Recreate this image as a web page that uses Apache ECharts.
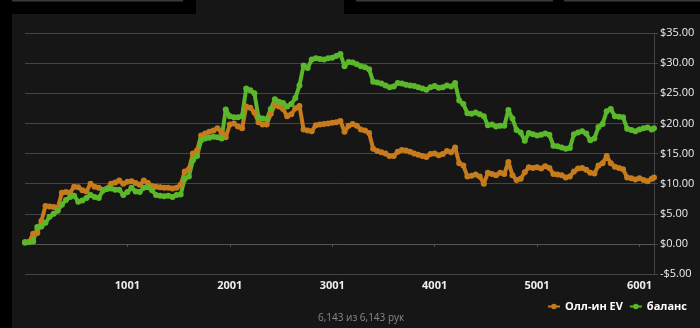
<!DOCTYPE html>
<html><head><meta charset="utf-8">
<script src="https://cdn.jsdelivr.net/npm/echarts@6/dist/echarts.min.js"></script>
<style>html,body{margin:0;padding:0;background:#000;}#c{width:700px;height:328px;}</style>
</head><body><div id="c"></div>
<script>
const seriesNames = ['Олл-ин EV', 'баланс'];
const xTickLabels = [1001, 2001, 3001, 4001, 5001, 6001];
const yMin = -5, yMax = 35, yStep = 5;
const footerText = '6,143 из 6,143 рук';

const hands = [1,41,81,121,161,201,241,281,321,361,401,441,481,521,561,601,641,681,721,761,
801,841,881,921,961,1001,1041,1081,1121,1161,1201,1241,1281,1321,1361,1401,1441,1481,1521,1561,
1601,1641,1681,1721,1761,1801,1841,1881,1921,1961,2001,2041,2081,2121,2161,2201,2241,2281,2321,2361,
2401,2441,2481,2521,2561,2601,2641,2681,2721,2761,2801,2841,2881,2921,2961,3001,3041,3081,3121,3161,
3201,3241,3281,3321,3361,3401,3441,3481,3521,3561,3601,3641,3681,3721,3761,3801,3841,3881,3921,3961,
4001,4041,4081,4121,4161,4201,4241,4281,4321,4361,4401,4441,4481,4521,4561,4601,4641,4681,4721,4761,
4801,4841,4881,4921,4961,5001,5041,5081,5121,5161,5201,5241,5281,5321,5361,5401,5441,5481,5521,5561,
5601,5641,5681,5721,5761,5801,5841,5881,5921,5961,6001,6041,6081,6121,6143];

const allinEV = [0.3,0.3,1.7,1.8,3.8,6.3,6.2,6.1,6.0,8.5,8.6,8.5,9.5,9.4,8.9,8.7,10.0,9.5,9.3,9.0,
9.2,10.0,10.2,10.5,10.0,10.3,10.4,10.1,9.8,10.5,10.1,9.6,9.5,9.4,9.3,9.3,9.2,9.3,9.8,12.0,
12.4,15.0,15.5,18.0,18.3,18.6,18.8,19.2,18.5,17.7,19.8,20.0,19.5,19.2,22.8,22.6,21.8,20.2,19.8,19.8,
21.6,23.0,22.8,22.4,21.2,21.5,22.5,22.9,19.0,18.8,18.7,19.7,19.8,19.9,20.0,20.1,20.2,20.4,18.6,19.6,
19.9,19.6,19.0,18.8,18.4,15.8,15.4,15.2,15.0,14.6,14.6,15.3,15.6,15.5,15.3,15.0,14.8,14.6,14.4,14.9,
15.0,14.7,14.9,15.4,15.2,16.0,13.4,13.0,11.2,11.3,11.5,11.2,10.0,11.8,11.6,11.4,11.8,11.6,13.6,11.4,
10.6,10.8,11.9,12.7,12.6,12.7,12.5,12.9,12.6,11.6,11.5,11.4,11.0,11.2,12.0,12.5,12.6,12.3,11.8,11.7,
13.0,13.4,14.6,13.4,12.8,12.6,12.4,11.0,10.9,10.7,10.9,10.6,10.4,10.8,11.0];

const balance = [0.2,0.3,0.4,2.8,2.9,3.5,4.5,5.0,5.5,6.5,7.3,7.8,8.0,7.0,7.2,7.6,8.1,7.8,7.6,8.8,
9.1,9.2,9.0,9.0,8.1,8.6,9.3,8.7,8.6,9.3,9.4,8.9,8.1,8.0,7.9,8.0,7.8,8.1,8.2,10.8,
11.2,13.9,14.6,17.2,17.5,17.6,17.8,17.7,17.5,22.3,21.2,21.0,21.0,21.2,25.8,25.5,25.0,21.0,20.8,20.7,
22.4,24.0,23.6,23.4,22.8,23.2,24.2,26.3,29.6,29.2,30.6,30.8,30.7,30.6,30.8,30.9,31.2,31.5,29.5,30.2,
30.1,29.8,29.5,29.3,29.0,26.9,26.8,26.6,26.3,26.0,26.1,26.7,26.6,26.4,26.3,26.2,26.0,25.8,25.6,26.0,
26.2,25.9,26.0,26.3,26.1,26.7,23.8,23.2,21.7,21.6,21.8,21.5,21.2,19.7,19.8,19.5,19.6,19.6,22.2,20.8,
18.9,18.5,17.1,18.4,18.2,18.0,18.1,18.3,18.1,16.3,16.2,16.0,15.8,15.9,18.2,18.5,18.7,18.3,17.2,17.5,
19.4,19.9,22.0,22.4,21.2,21.1,21.0,19.1,18.9,18.7,19.0,19.2,19.3,19.0,19.2];

const colors = ['#c67c1c', '#5cb82b'];
const chart = echarts.init(document.getElementById('c'), null, {renderer: 'canvas'});
const font = '"Open Sans", "Noto Sans", sans-serif';

chart.setOption({
  backgroundColor: '#000',
  animation: false,
  graphic: [
    {type: 'rect', shape: {x: 12, y: 14, width: 688, height: 314}, style: {fill: '#161616'}, z: -10},
    {type: 'rect', shape: {x: 196, y: 0, width: 148, height: 14}, style: {fill: '#161616'}, z: -10},
    {type: 'rect', shape: {x: 12, y: 0, width: 171, height: 1.5}, style: {fill: '#3a3a3a'}, z: -9},
    {type: 'rect', shape: {x: 356, y: 0, width: 197, height: 1.5}, style: {fill: '#3a3a3a'}, z: -9},
    {type: 'rect', shape: {x: 564, y: 0, width: 136, height: 1.5}, style: {fill: '#3a3a3a'}, z: -9},
    {type: 'text', left: 318, top: 313, style: {text: footerText, fill: '#8a8a8a', font: '10px ' + font}}
  ],
  grid: {left: 25, right: 46, top: 33, bottom: 54},
  legend: {
    right: 8, bottom: 11, itemWidth: 12, itemHeight: 7, itemGap: 6,
    textStyle: {color: '#fff', fontWeight: 'bold', fontSize: 11, fontFamily: font},
    data: seriesNames
  },
  xAxis: {
    type: 'value', min: 1, max: 6143,
    axisLine: {show: true, lineStyle: {color: '#555'}},
    axisTick: {show: true, customValues: xTickLabels, length: 3, lineStyle: {color: '#555'}},
    axisLabel: {customValues: xTickLabels, color: '#eee', fontSize: 11, fontWeight: 'bold', fontFamily: font, margin: 6,
      formatter: v => String(v)},
    splitLine: {show: false}
  },
  yAxis: {
    type: 'value', position: 'right', min: yMin, max: yMax, interval: yStep,
    axisLine: {show: true, lineStyle: {color: '#444'}},
    axisTick: {show: true, length: 4, lineStyle: {color: '#444'}},
    axisLabel: {color: '#eee', fontSize: 11, fontFamily: font, margin: 6,
      formatter: v => (v < 0 ? '-$' : '$') + Math.abs(v).toFixed(2)},
    splitLine: {show: true, lineStyle: {color: '#444', width: 1}}
  },
  series: [
    {name: seriesNames[0], type: 'line', data: hands.map((h, i) => [h, allinEV[i]]),
     color: colors[0], symbol: 'circle', symbolSize: 6, showSymbol: true, showAllSymbol: true,
     lineStyle: {width: 4, color: colors[0]}, itemStyle: {color: colors[0]}},
    {name: seriesNames[1], type: 'line', data: hands.map((h, i) => [h, balance[i]]),
     color: colors[1], symbol: 'circle', symbolSize: 6, showSymbol: true, showAllSymbol: true,
     lineStyle: {width: 4, color: colors[1]}, itemStyle: {color: colors[1]}}
  ]
});
</script></body></html>
